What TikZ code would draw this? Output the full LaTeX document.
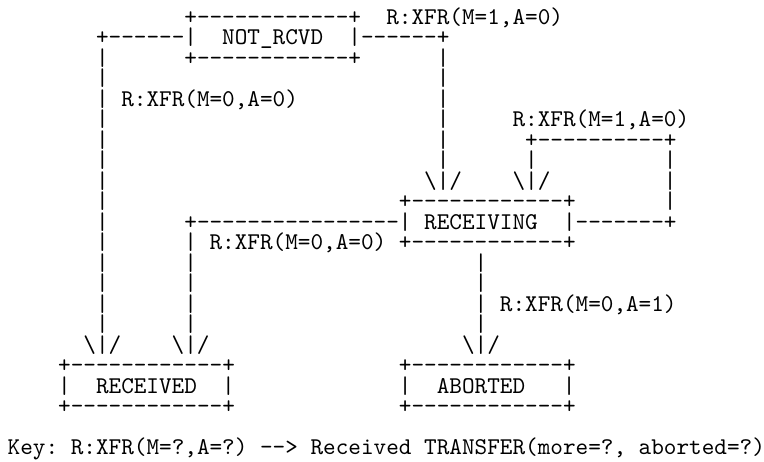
\documentclass[tikz,border=0pt]{standalone}
\font\asciifont="[lmmono10-regular.otf]" at 12.02pt
\newcommand\Sp[1]{\hskip#1\fontdimen2\asciifont}
\newcommand\BS{\textbackslash}
\begin{document}
\begin{tikzpicture}[
  ascii/.style={anchor=base west, inner sep=0pt, outer sep=0pt, text=black, font=\asciifont}]
\useasboundingbox (0pt,0pt) rectangle (382pt,-230.5pt);
\node[ascii] (diagram) at (3.845pt,-12pt) {\vtop{\baselineskip=10.25pt\lineskiplimit=-\maxdimen\lineskip=0pt
\hbox{\Sp{14}+------------+\Sp{2}R:XFR(M=1,A=0)}
\hbox{\Sp{7}+------|\Sp{2}NOT\_RCVD\Sp{2}|------+}
\hbox{\Sp{7}|\Sp{6}+------------+\Sp{6}|}
\hbox{\Sp{7}|\Sp{26}|}
\hbox{\Sp{7}|\Sp{1}R:XFR(M=0,A=0)\Sp{11}|}
\hbox{\Sp{7}|\Sp{26}|\Sp{5}R:XFR(M=1,A=0)}
\hbox{\Sp{7}|\Sp{26}|\Sp{6}+----------+}
\hbox{\Sp{7}|\Sp{26}|\Sp{6}|\Sp{10}|}
\hbox{\Sp{7}|\Sp{25}\BS|/\Sp{4}\BS|/\Sp{9}|}
\hbox{\Sp{7}|\Sp{23}+------------+\Sp{7}|}
\hbox{\Sp{7}|\Sp{6}+----------------|\Sp{1}RECEIVING\Sp{2}|-------+}
\hbox{\Sp{7}|\Sp{6}|\Sp{1}R:XFR(M=0,A=0)\Sp{1}+------------+}
\hbox{\Sp{7}|\Sp{6}|\Sp{22}|}
\hbox{\Sp{7}|\Sp{6}|\Sp{22}|}
\hbox{\Sp{7}|\Sp{6}|\Sp{22}|\Sp{1}R:XFR(M=0,A=1)}
\hbox{\Sp{7}|\Sp{6}|\Sp{22}|}
\hbox{\Sp{6}\BS|/\Sp{4}\BS|/\Sp{20}\BS|/}
\hbox{\Sp{4}+------------+\Sp{13}+------------+}
\hbox{\Sp{4}|\Sp{2}RECEIVED\Sp{2}|\Sp{13}|\Sp{2}ABORTED\Sp{3}|}
\hbox{\Sp{4}+------------+\Sp{13}+------------+}
\hbox{}
\hbox{Key:\Sp{1}R:XFR(M=?,A=?)\Sp{1}-->\Sp{1}Received\Sp{1}TRANSFER(more=?,\Sp{1}aborted=?)}
}};
\end{tikzpicture}
\end{document}
